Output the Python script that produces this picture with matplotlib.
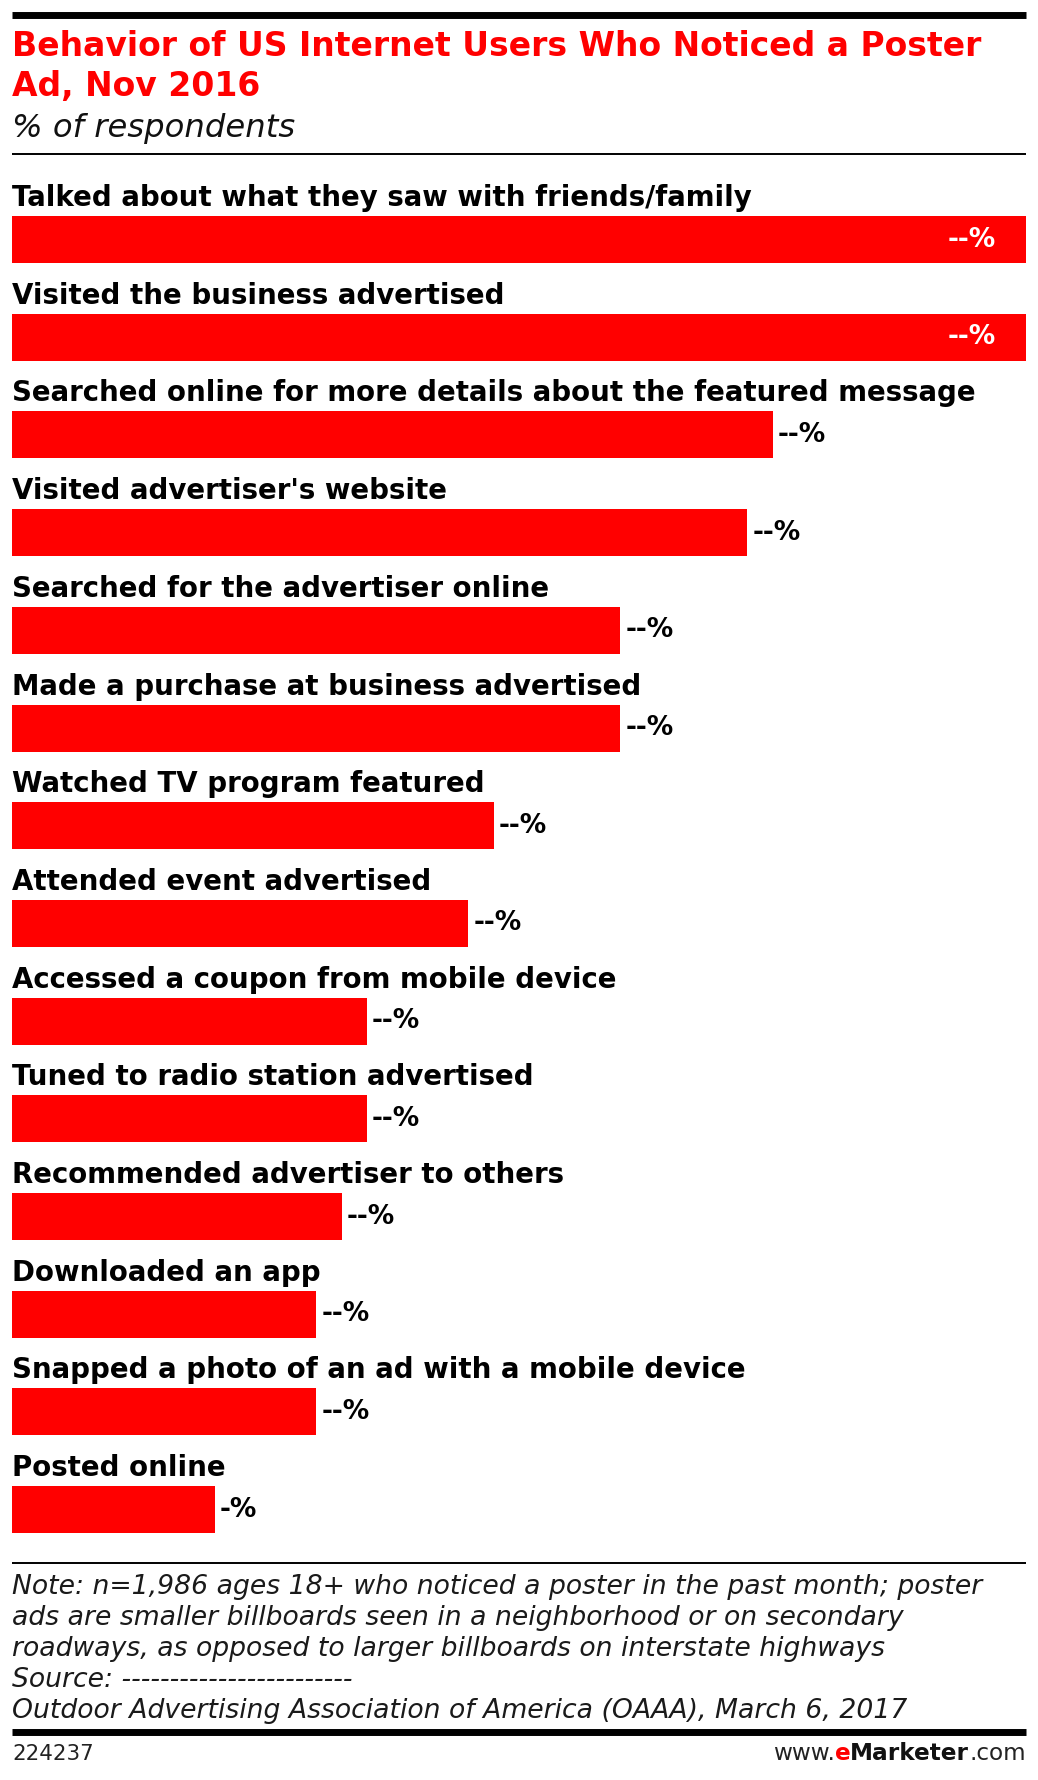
import matplotlib
matplotlib.use('Agg')
import matplotlib.pyplot as plt
from matplotlib.lines import Line2D

behaviors = [
    'Talked about what they saw with friends/family',
    'Visited the business advertised',
    'Searched online for more details about the featured message',
    "Visited advertiser's website",
    'Searched for the advertiser online',
    'Made a purchase at business advertised',
    'Watched TV program featured',
    'Attended event advertised',
    'Accessed a coupon from mobile device',
    'Tuned to radio station advertised',
    'Recommended advertiser to others',
    'Downloaded an app',
    'Snapped a photo of an ad with a mobile device',
    'Posted online',
]
shares = [40, 40, 30, 29, 24, 24, 19, 18, 14, 14, 13, 12, 12, 8]

title_lines = ['Behavior of US Internet Users Who Noticed a Poster',
               'Ad, Nov 2016']
subtitle = '% of respondents'
note_lines = [
    'Note: n=1,986 ages 18+ who noticed a poster in the past month; poster',
    'ads are smaller billboards seen in a neighborhood or on secondary',
    'roadways, as opposed to larger billboards on interstate highways',
    'Source: ------------------------',
    'Outdoor Advertising Association of America (OAAA), March 6, 2017',
]
chart_id = '224237'
site_parts = [('www.', 'normal', '#222222'), ('e', 'bold', '#ff0000'),
              ('Marketer', 'bold', '#111111'), ('.com', 'normal', '#222222')]

W, H = 1038, 1780
RED = '#ff0000'
plt.rcParams['font.family'] = ['DejaVu Sans']


def fx(px):
    return px / W


def fy(py):
    return 1 - py / H


fig = plt.figure(figsize=(W / 100, H / 100), dpi=100)


def hrule(y, lw):
    fig.add_artist(Line2D([fx(12), fx(1026)], [fy(y), fy(y)], color='black',
                          lw=lw, solid_capstyle='butt'))


# header
hrule(14.5, 5.0)
for i, line in enumerate(title_lines):
    fig.text(fx(12), fy(56 + 40 * i), line, color=RED, fontsize=23.8,
             fontweight='bold', va='baseline', ha='left')
fig.text(fx(12), fy(137), subtitle, fontsize=23.2, style='italic',
         color='#111111', va='baseline', ha='left')
hrule(154, 1.4)

# bars
pitch = 97.7
top_c = 239.5
ax_top = top_c - pitch / 2
ax_bot = top_c + (len(shares) - 1) * pitch + pitch / 2
ax = fig.add_axes([fx(12), fy(ax_bot), fx(1026) - fx(12),
                   (ax_bot - ax_top) / H])
ypos = list(range(len(shares)))
bar_h = 47 / pitch
ax.barh(ypos, shares, height=bar_h, color=RED, left=0)
ax.set_xlim(0, max(shares))
ax.set_ylim(len(shares) - 0.5, -0.5)
ax.axis('off')

vmax = max(shares)
for y, lab, v in zip(ypos, behaviors, shares):
    ax.text(0, y - bar_h / 2 - 10 / pitch, lab, fontsize=19.9,
            fontweight='bold', va='baseline', ha='left', clip_on=False)
    txt = '-' * len(str(v)) + '%'
    if v >= vmax:
        ax.annotate(txt, (v, y), xytext=(-21.5, 0), textcoords='offset points',
                    ha='right', va='center', color='white', fontsize=19,
                    fontweight='bold')
    else:
        ax.annotate(txt, (v, y), xytext=(3.6, 0), textcoords='offset points',
                    ha='left', va='center', color='black', fontsize=19,
                    fontweight='bold')

# notes
hrule(1563, 1.4)
for i, line in enumerate(note_lines):
    fig.text(fx(12), fy(1594 + 31 * i), line, fontsize=19.2, style='italic',
             color='#1a1a1a', va='baseline', ha='left')
hrule(1732, 5.0)

fig.text(fx(12), fy(1760), chart_id, fontsize=15.4, color='#222222',
         va='baseline', ha='left')

renderer = fig.canvas.get_renderer()
x_right = 1026
for part, weight, col in reversed(site_parts):
    t = fig.text(fx(x_right), fy(1760), part, fontsize=16.7, fontweight=weight,
                 color=col, va='baseline', ha='right')
    x_right -= t.get_window_extent(renderer).width

fig.savefig('out.png', dpi=100)
